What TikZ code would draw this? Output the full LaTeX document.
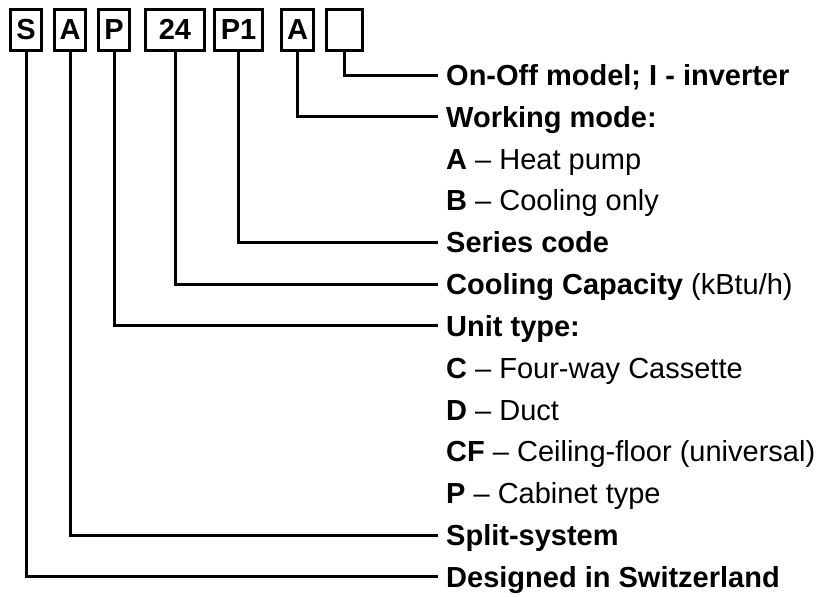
\documentclass[tikz,border=0pt]{standalone}
\usepackage{fontspec}
\setmainfont{Liberation Sans}
\usetikzlibrary{positioning,calc}

\begin{document}
\begin{tikzpicture}[
    x=1pt, y=-1pt,
    font=\fontsize{29}{35}\selectfont,
    letter/.style={draw,
                   line width=3pt,
                   inner sep=0pt,
                   minimum height=41.5pt,
                   font=\fontsize{29}{35}\selectfont\bfseries},
    desc/.style={anchor=west, inner sep=0pt,
                 text height=20.8pt, text depth=0pt},
    conn/.style={-, line width=3pt, shorten >=8pt}
]
\useasboundingbox (0,0) rectangle (823,597);

% code letters
\foreach \t/\x/\w [count=\i] in {S/26/31, A/70/31, P/114/31, 24/175/59, P1/238.5/48, A/297.5/32, {}/344.5/36} {
    \node[letter, minimum width=\w pt] (b\i) at (\x,29.75) {\t};
}

% meaning of each position
\foreach \txt [count=\i] in {
    {\textbf{On-Off model; I - inverter}},
    {\textbf{Working mode:}},
    {\textbf{A} -- Heat pump},
    {\textbf{B} -- Cooling only},
    {\textbf{Series code}},
    {\textbf{Cooling Capacity} (kBtu/h)},
    {\textbf{Unit type:}},
    {\textbf{C} -- Four-way Cassette},
    {\textbf{D} -- Duct},
    {\textbf{CF} -- Ceiling-floor (universal)},
    {\textbf{P} -- Cabinet type},
    {\textbf{Split-system}},
    {\textbf{Designed in Switzerland}}} {
    \node[desc] (r\i) at (446,{75+41.83*(\i-1)}) {\txt};
}

\foreach \b/\r in {b7/1, b6/2, b5/5, b4/6, b3/7, b2/12, b1/13} {
    \draw[conn] (\b.south) |- (r\r.west);
}
\end{tikzpicture}
\end{document}
